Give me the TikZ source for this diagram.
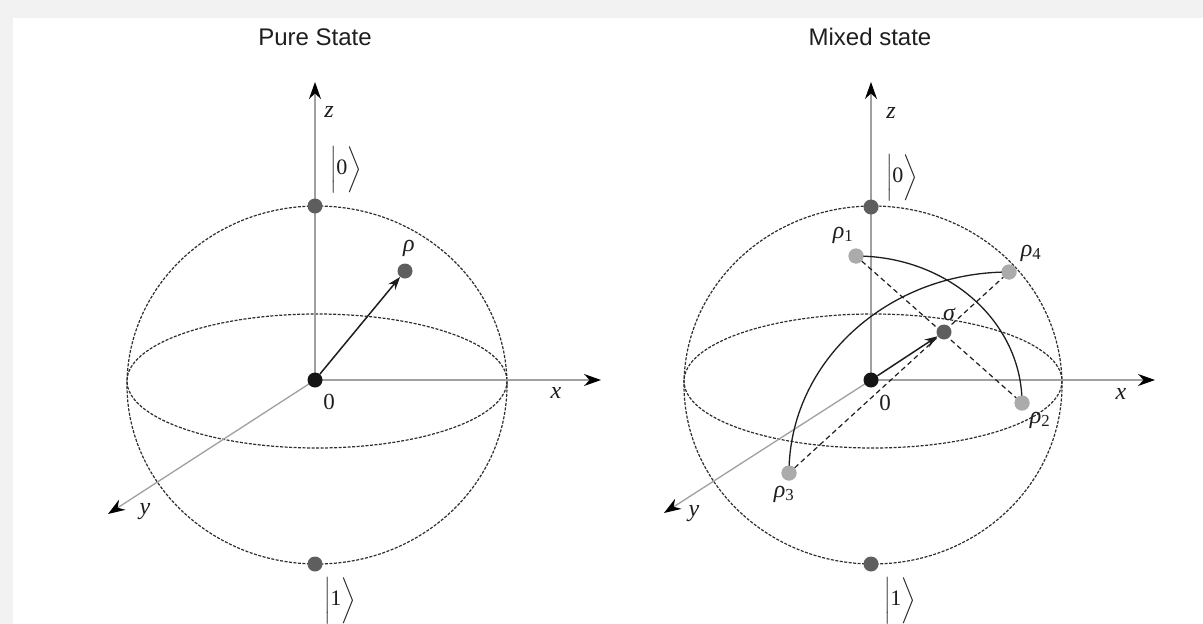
\documentclass[tikz,border=0pt]{standalone}
\usepackage{fontspec}
\usepackage{graphicx}
\setmainfont{Liberation Serif}
\newfontfamily\titlefont{Liberation Sans}
\usetikzlibrary{arrows.meta,calc}
\definecolor{bg}{HTML}{F2F2F2}
\definecolor{axisgray}{HTML}{A0A0A0}
\definecolor{sph}{HTML}{2E2E2E}
\definecolor{dotdark}{HTML}{5E5E5E}
\definecolor{dotlight}{HTML}{ABABAB}
\definecolor{dotblack}{HTML}{151515}
\definecolor{ink}{HTML}{1E1E1E}
\newcommand\myket[1]{\scalebox{1.92}{$\bigg|\hbox{\fontsize{11.5}{12}\selectfont #1}\bigg\rangle$}}
\begin{document}
\begin{tikzpicture}[x=1pt,y=-1pt,
  title/.style={font=\titlefont\fontsize{24}{28}\selectfont, text=ink, inner sep=0},
  lbl/.style={font=\fontsize{24}{26}\selectfont\itshape, text=ink, inner sep=0},
  num/.style={font=\fontsize{23}{25}\selectfont, text=ink, inner sep=0},
  ketlbl/.style={text=ink, inner sep=0},
  axis/.style={draw=axisgray, line width=1.3pt, -{Stealth[length=17pt,width=12pt,black]}},
  sphere/.style={draw=sph, line width=1.2pt, dash pattern=on 3pt off 1.5pt},
  dot/.style={circle, fill=#1, minimum size=15pt, inner sep=0},
  vec/.style={draw=ink, line width=1.5pt, -{Stealth[length=13pt,width=9pt]}},
  chord/.style={draw=ink, line width=1.2pt, dash pattern=on 5pt off 3.5pt},
  arcline/.style={draw=ink, line width=1.3pt},
]
\useasboundingbox (0,0) rectangle (1203,624);
\fill[bg] (0,0) rectangle (1203,624);
\fill[white] (13,18) rectangle (1203,624);

% ---------- Left: pure state ----------
\node[title] (t1) at (315,37) {Pure State};
\draw[sphere] (317,385) ellipse [x radius=190, y radius=179];
\draw[sphere] (317,381) ellipse [x radius=190, y radius=67];
\coordinate (o1c) at (315,380);
\coordinate (zt1) at (315,82);
\coordinate (xt1) at (601,380);
\coordinate (yt1) at (108,514);
\draw[axis] (o1c) -- (zt1);
\draw[axis] (o1c) -- (xt1);
\draw[axis] (o1c) -- (yt1);
\node[dot=dotdark] (n1) at (315,206) {};
\node[dot=dotdark] (s1) at (315,564) {};
\node[dot=dotdark] (rho) at (405,271) {};
\node[dot=dotblack] (o1) at (315,380) {};
\draw[vec] (o1) -- (rho);
\node[lbl] (zl1) at (329,112) {z};
\node[lbl] (xl1) at (556,393) {x};
\node[lbl] (yl1) at (145,512) {y};
\node[num] (zero1) at (329,402) {0};
\node[lbl] (rhol) at (409,248) {ρ};
\node[ketlbl] (k01) at (346,170) {\myket{0}};
\node[ketlbl] (k11) at (340,601) {\myket{1}};

% ---------- Right: mixed state ----------
\node[title] (t2) at (870,37) {Mixed state};
\draw[sphere] (873,385) ellipse [x radius=189, y radius=179];
\draw[sphere] (873,381) ellipse [x radius=189, y radius=67];
\coordinate (o2c) at (871,380);
\coordinate (zt2) at (871,82);
\coordinate (xt2) at (1155,380);
\coordinate (yt2) at (664,513);
\draw[axis] (o2c) -- (zt2);
\draw[axis] (o2c) -- (xt2);
\draw[axis] (o2c) -- (yt2);
\node[dot=dotlight] (r1) at (856,256) {};
\node[dot=dotlight] (r2) at (1022,403) {};
\node[dot=dotlight] (r3) at (789,473) {};
\node[dot=dotlight] (r4) at (1009,272) {};
\draw[chord] (r1) -- (r2);
\draw[chord] (r3) -- (r4);
\draw[arcline] (r1.center) .. controls ($(r1.center)!0.5523!(r1 -| r2)$) and ($(r2.center)!0.5523!(r1 -| r2)$) .. (r2.center);
\draw[arcline] (r3.center) .. controls ($(r3.center)!0.5523!(r3 |- r4)$) and ($(r4.center)!0.5523!(r3 |- r4)$) .. (r4.center);
\node[dot=dotlight] at (r1) {};
\node[dot=dotlight] at (r2) {};
\node[dot=dotlight] at (r3) {};
\node[dot=dotlight] at (r4) {};
\node[dot=dotdark] (n2) at (871,207) {};
\node[dot=dotdark] (s2) at (871,564) {};
\node[dot=dotdark] (sig) at (944,332) {};
\node[dot=dotblack] (o2) at (871,380) {};
\draw[vec] (o2) -- (sig);
\node[lbl] (zl2) at (891,113) {z};
\node[lbl] (xl2) at (1121,394) {x};
\node[lbl] (yl2) at (694,514) {y};
\node[num] (zero2) at (885,403) {0};
\node[lbl] (sigl) at (949,314) {σ};
\node[lbl] (r1l) at (843,235) {ρ\textsubscript{\upshape 1}};
\node[lbl] (r2l) at (1040,420) {ρ\textsubscript{\upshape 2}};
\node[lbl] (r3l) at (784,494) {ρ\textsubscript{\upshape 3}};
\node[lbl] (r4l) at (1031,253) {ρ\textsubscript{\upshape 4}};
\node[ketlbl] (k02) at (902,178) {\myket{0}};
\node[ketlbl] (k12) at (900,601) {\myket{1}};
\end{tikzpicture}
\end{document}
